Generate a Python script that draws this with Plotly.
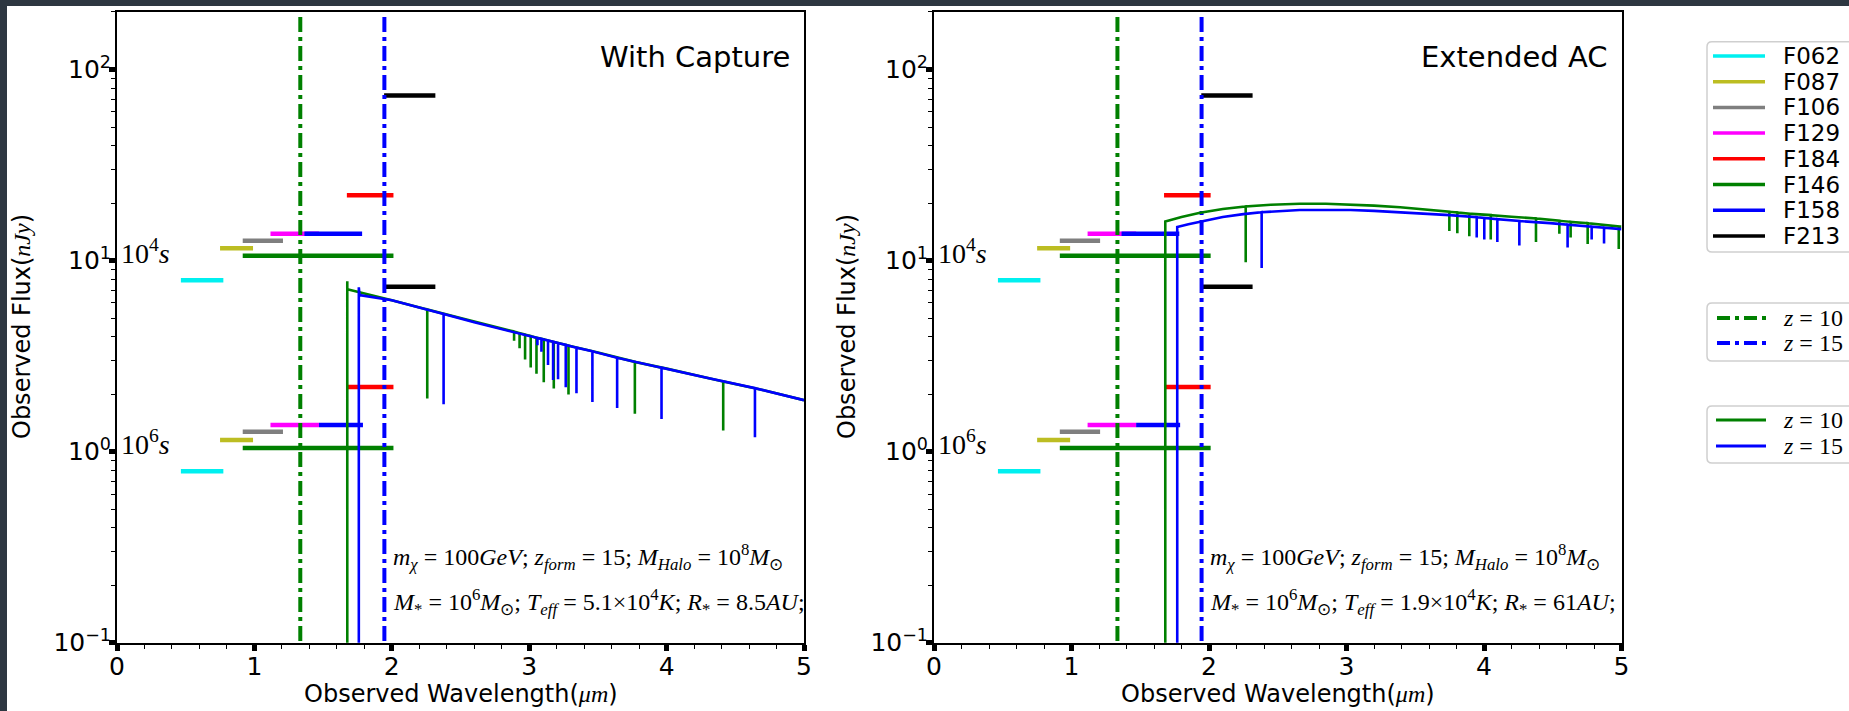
import plotly.graph_objects as go

W, H = 1849, 711

# ---------------- data ----------------
filters = ["F062", "F087", "F106", "F129", "F184", "F146", "F158", "F213"]
filter_colors = ["#00f0f0", "#bcbd22", "#7f7f7f", "#ff00ff", "#ff0000", "#008000", "#0000ff", "#000000"]
# wavelength range of each sensitivity bar (um) for 1e4 s and 1e6 s limits
bar_lo_1e4 = [0.465, 0.75, 0.915, 1.117, 1.673, 0.915, 1.364, 1.944]
bar_hi_1e4 = [0.774, 0.99, 1.208, 1.47, 2.012, 2.012, 1.784, 2.317]
bar_lo_1e6 = [0.465, 0.75, 0.915, 1.117, 1.673, 0.915, 1.47, 1.944]
bar_hi_1e6 = [0.774, 0.99, 1.208, 1.47, 2.012, 2.012, 1.79, 2.317]
# flux limits (nJy)
limit_1e4 = [7.9, 11.6, 12.7, 13.8, 22.0, 10.6, 13.8, 73.0]
limit_1e6 = [0.79, 1.15, 1.27, 1.38, 2.18, 1.045, 1.38, 7.3]

# Lyman-alpha observed wavelengths (um)
z_labels = ["10", "15"]
lya_wl = [1.334, 1.946]
z_colors = ["#008000", "#0000ff"]

# ---- With Capture spectra: knots (wavelength, continuum, absorption-line minimum)
cap_g_wl   = [1.676, 1.676, 1.676, 2.0, 2.258, 2.5, 2.89, 2.93, 2.97, 3.011, 3.053, 3.106, 3.179, 3.286, 3.5, 3.769, 4.0, 4.412, 4.7, 5.0]
cap_g_flux = [0.01, 7.8, 7.07, 6.2, 5.55, 5.0, 4.25, 4.17, 4.1, 4.03, 3.95, 3.87, 3.75, 3.59, 3.3, 2.95, 2.72, 2.33, 2.1, 1.86]
cap_g_dip  = [None, None, None, None, 1.9, None, 3.8, 3.48, 3.04, 2.76, 2.56, 2.31, 2.14, 1.99, None, 1.58, None, 1.29, None, None]

cap_b_wl   = [1.76, 1.76, 1.765, 2.0, 2.377, 2.6, 2.9, 3.06, 3.089, 3.137, 3.174, 3.21, 3.266, 3.344, 3.46, 3.64, 3.963, 4.3, 4.643, 5.0]
cap_b_flux = [0.01, 7.25, 6.6, 6.2, 5.25, 4.75, 4.22, 3.93, 3.89, 3.82, 3.76, 3.7, 3.62, 3.5, 3.35, 3.1, 2.75, 2.43, 2.15, 1.86]
cap_b_dip  = [None, None, None, None, 1.77, None, None, 3.6, 3.33, 2.84, 2.37, 2.39, 2.17, 2.02, 1.82, 1.69, 1.48, None, 1.19, None]

# ---- Extended AC spectra
ext_g_wl   = [1.682, 1.682, 1.8, 1.935, 2.1, 2.267, 2.45, 2.66, 2.85, 3.03, 3.2, 3.39, 3.55, 3.748, 3.806, 3.893, 4.049, 4.2, 4.378, 4.548, 4.63, 4.754, 4.98, 5.0]
ext_g_flux = [0.01, 16.0, 16.9, 17.8, 18.6, 19.2, 19.6, 19.85, 19.85, 19.7, 19.4, 19.0, 18.5, 18.0, 17.85, 17.6, 17.3, 16.95, 16.6, 16.15, 15.95, 15.7, 15.1, 15.05]
ext_g_dip  = [None, None, None, None, None, 9.8, None, None, None, None, None, None, None, 14.3, 13.9, 13.4, 12.9, None, 12.5, 13.8, 13.2, 12.2, 11.5, None]

ext_b_wl   = [1.769, 1.769, 1.85, 1.935, 2.1, 2.25, 2.383, 2.66, 2.85, 3.03, 3.2, 3.39, 3.55, 3.75, 3.947, 4.002, 4.097, 4.257, 4.48, 4.608, 4.783, 4.873, 5.0]
ext_b_flux = [0.01, 15.0, 15.5, 16.0, 16.9, 17.5, 17.9, 18.4, 18.45, 18.4, 18.2, 17.9, 17.6, 17.3, 16.85, 16.7, 16.45, 16.1, 15.7, 15.4, 15.05, 14.85, 14.6]
ext_b_dip  = [None, None, None, None, None, None, 9.15, None, None, None, None, None, None, None, 13.2, 12.9, 12.5, 12.0, None, 11.7, 12.9, 12.3, None]

panel_titles = ["With Capture", "Extended AC"]
params_line1 = "<i>m</i><sub><i>χ</i></sub> = 100<i>GeV</i>; <i>z</i><sub><i>form</i></sub> = 15; <i>M</i><sub><i>Halo</i></sub> = 10<sup>8</sup><i>M</i><sub>⊙</sub>"
params_line2 = [
    "<i>M</i><sub>*</sub> = 10<sup>6</sup><i>M</i><sub>⊙</sub>; <i>T</i><sub><i>eff</i></sub> = 5.1×10<sup>4</sup><i>K</i>; <i>R</i><sub>*</sub> = 8.5<i>AU</i>;",
    "<i>M</i><sub>*</sub> = 10<sup>6</sup><i>M</i><sub>⊙</sub>; <i>T</i><sub><i>eff</i></sub> = 1.9×10<sup>4</sup><i>K</i>; <i>R</i><sub>*</sub> = 61<i>AU</i>;",
]

YMIN, YMAX = 0.1, 200.0

# ---------------- helpers ----------------
def spectrum_path(wl, flux, dip):
    xs, ys = [], []
    for w, f, d in zip(wl, flux, dip):
        if d is None:
            xs.append(w); ys.append(f)
        else:
            xs += [w, w, w]; ys += [f, d, f]
    return xs, ys

SERIF = "Liberation Serif, Times New Roman, serif"
SANS = "DejaVu Sans, sans-serif"
DASHDOT = "15px,5px,4px,5px"

fig = go.Figure()

spectra = [
    [(cap_g_wl, cap_g_flux, cap_g_dip), (cap_b_wl, cap_b_flux, cap_b_dip)],
    [(ext_g_wl, ext_g_flux, ext_g_dip), (ext_b_wl, ext_b_flux, ext_b_dip)],
]

for p in range(2):
    xa = "x" if p == 0 else "x2"
    ya = "y" if p == 0 else "y2"
    for i, name in enumerate(filters):
        fig.add_trace(go.Scatter(
            x=[bar_lo_1e4[i], bar_hi_1e4[i], None, bar_lo_1e6[i], bar_hi_1e6[i]],
            y=[limit_1e4[i], limit_1e4[i], None, limit_1e6[i], limit_1e6[i]],
            mode="lines", line=dict(color=filter_colors[i], width=4.5),
            name=name, showlegend=False, xaxis=xa, yaxis=ya, hoverinfo="skip"))
    for j, w in enumerate(lya_wl):
        fig.add_trace(go.Scatter(
            x=[w, w], y=[YMIN * 1.02, YMAX], mode="lines",
            line=dict(color=z_colors[j], width=4, dash=DASHDOT),
            name="Lyα z=" + z_labels[j], showlegend=False, xaxis=xa, yaxis=ya, hoverinfo="skip"))
    for j, (wl, fl, dp) in enumerate(spectra[p]):
        xs, ys = spectrum_path(wl, fl, dp)
        fig.add_trace(go.Scatter(
            x=xs, y=ys, mode="lines", line=dict(color=z_colors[j], width=2.6),
            name="spectrum z=" + z_labels[j], showlegend=False, xaxis=xa, yaxis=ya, hoverinfo="skip"))

# ---------------- layout ----------------
x_dom = [[117 / W, 804 / W], [934 / W, 1621.5 / W]]
y_dom = [(H - 642.7) / H, (H - 12) / H]

minor_y = [k * 10 ** e for e in (-1, 0, 1) for k in range(2, 10)] + [200]
tickfont = dict(family=SANS, size=25, color="black")

def xaxis_cfg(dom, anchor):
    return dict(domain=dom, anchor=anchor, range=[0, 5], showgrid=False, zeroline=False,
                showline=True, linecolor="black", linewidth=2, mirror=True,
                ticks="outside", ticklen=6, tickwidth=5, tickcolor="black",
                tickvals=[0, 1, 2, 3, 4, 5], ticktext=["0", "1", "2", "3", "4", "5"],
                tickfont=tickfont, ticklabelstandoff=-6,
                minor=dict(ticks="outside", ticklen=4, tickwidth=1.2, tickcolor="black",
                           tickvals=[k / 5 for k in range(1, 25) if k % 5]))

def yaxis_cfg(anchor):
    return dict(domain=y_dom, anchor=anchor, type="log", range=[-1, 2.301],
                showgrid=False, zeroline=False, showline=True, linecolor="black",
                linewidth=2, mirror=True, ticks="outside", ticklen=6, tickwidth=5,
                tickcolor="black", tickvals=[0.1, 1, 10, 100],
                ticktext=["10<sup>−1</sup>", "10<sup>0</sup>", "10<sup>1</sup>", "10<sup>2</sup>"],
                tickfont=tickfont, ticklabelstandoff=-7,
                minor=dict(ticks="outside", ticklen=4, tickwidth=1.2, tickcolor="black",
                           tickvals=minor_y))

def px(x):
    return x / W

def py(y):
    return 1 - y / H

annotations = []
shapes = []

def add_text(text, x, y, family, size, xanchor="left", angle=0):
    annotations.append(dict(text=text, x=px(x), y=py(y), xref="paper", yref="paper",
                            xanchor=xanchor, yanchor="middle", textangle=angle, showarrow=False,
                            font=dict(family=family, size=size, color="black")))

for p in range(2):
    left = [117, 934][p]
    right = [804, 1621.5][p]
    add_text(panel_titles[p], right - 12, 57, SANS, 29, xanchor="right")
    add_text("10<sup>4</sup><i>s</i>", left + 2, 251, SERIF, 28)
    add_text("10<sup>6</sup><i>s</i>", left + 2, 442, SERIF, 28)
    add_text(params_line1, left + 274, 557, SERIF, 24)
    add_text(params_line2[p], left + 274, 602, SERIF, 24)
    add_text("Observed Wavelength(<span style='font-family:Liberation Serif'><i>μm</i></span>)",
             (left + right) / 2, 694, SANS, 24, xanchor="center")
    add_text("Observed Flux(<span style='font-family:Liberation Serif'><i>nJy</i></span>)",
             [22, 847][p], 327, SANS, 24, xanchor="center", angle=-90)

BG = "#2d3741"
shapes += [
    dict(type="rect", xref="paper", yref="paper", x0=0, x1=1, y0=py(6), y1=1,
         fillcolor=BG, line=dict(width=0), layer="below"),
    dict(type="rect", xref="paper", yref="paper", x0=0, x1=px(7), y0=0, y1=1,
         fillcolor=BG, line=dict(width=0), layer="below"),
]

# ---------------- legends (drawn as boxes, sample lines and text) ----------------
def legend_box(top, bottom, left=1707, right=1870, r=5):
    x0, x1 = px(left), px(right)
    y0, y1 = py(top), py(bottom)
    rx, ry = r / W, r / H
    path = (f"M{x0 + rx},{y0} L{x1},{y0} L{x1},{y1} L{x0 + rx},{y1} "
            f"Q{x0},{y1} {x0},{y1 + ry} L{x0},{y0 - ry} Q{x0},{y0} {x0 + rx},{y0} Z")
    shapes.append(dict(type="path", xref="paper", yref="paper", path=path, fillcolor="white",
                       line=dict(color="#cfcfcf", width=1.5), layer="above"))

def legend_line(y, color, dash="solid", width=3.5, x0=1713, x1=1765):
    shapes.append(dict(type="line", xref="paper", yref="paper", x0=px(x0), x1=px(x1),
                       y0=py(y), y1=py(y), line=dict(color=color, width=width, dash=dash),
                       layer="above"))

legend_box(41.7, 252)
for i, name in enumerate(filters):
    yrow = 56 + 25.7 * i
    legend_line(yrow, filter_colors[i])
    add_text(name, 1781, yrow, SANS, 23)

legend_box(303, 361)
for j in range(2):
    yrow = 318 + 25 * j
    legend_line(yrow, z_colors[j], dash="13px,5px,4px,5px", width=4, x0=1717, x1=1766)
    add_text("<i>z</i> = " + z_labels[j], 1781, yrow, SERIF, 24)

legend_box(406, 463)
for j in range(2):
    yrow = 420 + 26 * j
    legend_line(yrow, z_colors[j], width=3, x0=1716, x1=1766)
    add_text("<i>z</i> = " + z_labels[j], 1781, yrow, SERIF, 24)

fig.update_layout(
    width=W, height=H, margin=dict(l=0, r=0, t=0, b=0, autoexpand=False),
    paper_bgcolor="white", plot_bgcolor="white", showlegend=False,
    xaxis=xaxis_cfg(x_dom[0], "y"), yaxis=yaxis_cfg("x"),
    xaxis2=xaxis_cfg(x_dom[1], "y2"), yaxis2=yaxis_cfg("x2"),
    annotations=annotations, shapes=shapes,
)

fig.write_html("out.html")
